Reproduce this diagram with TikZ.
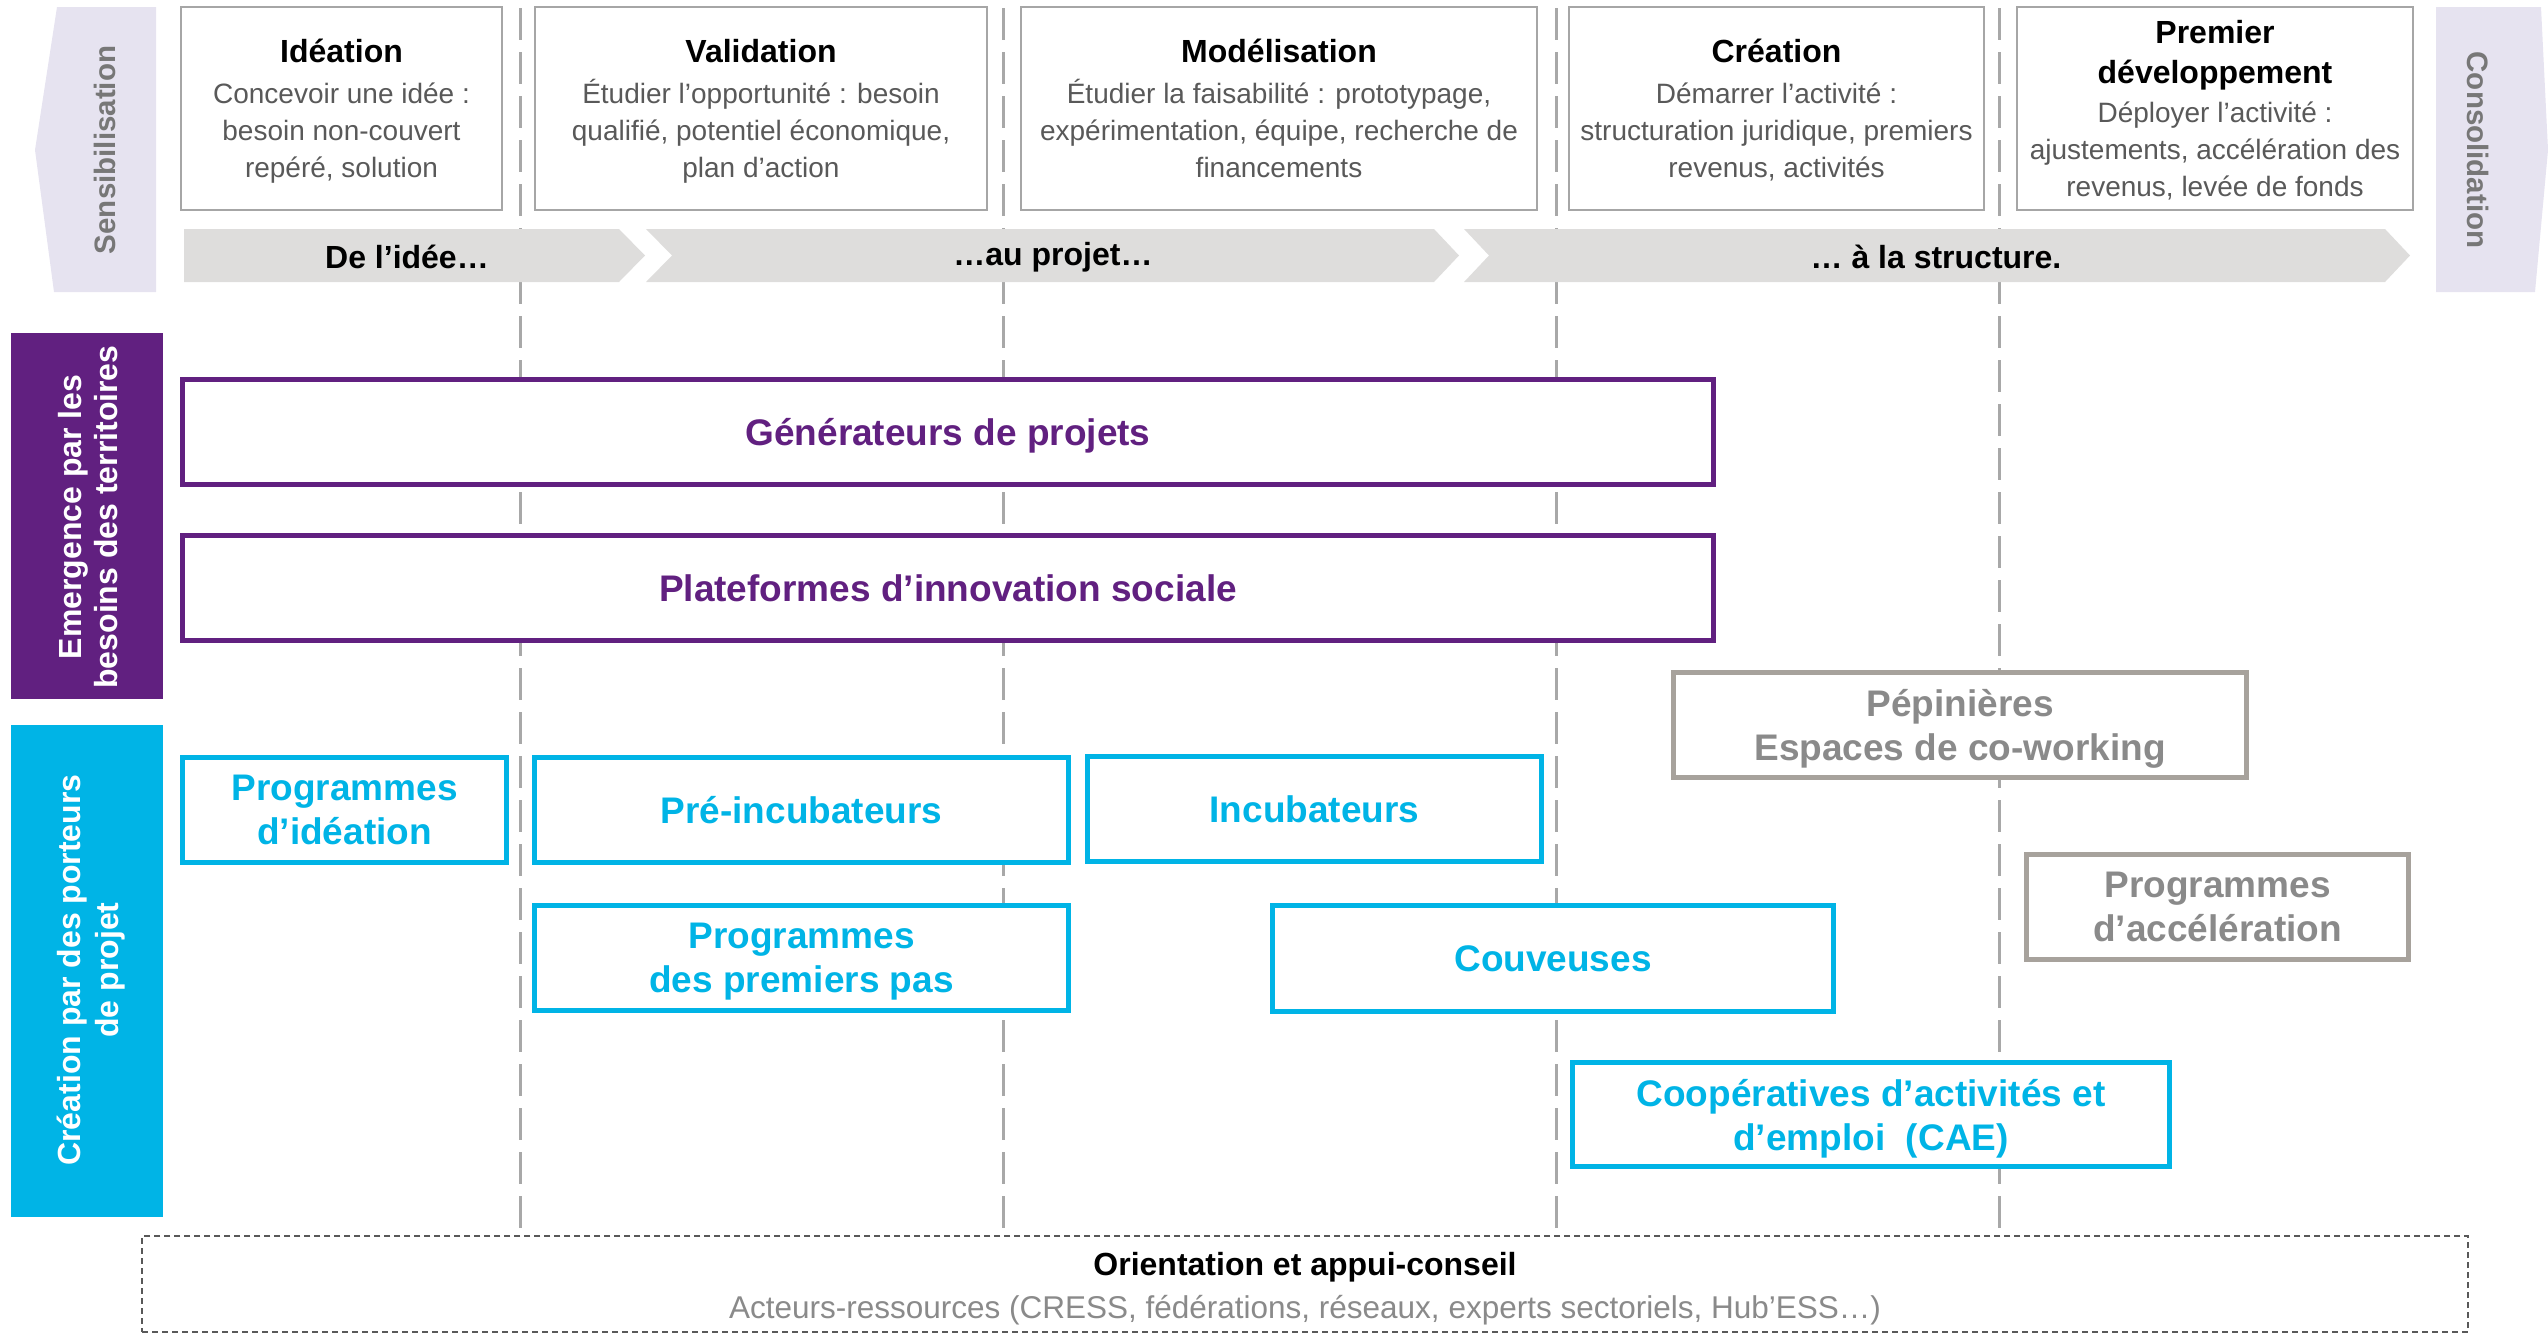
\documentclass[tikz,border=0pt]{standalone}
\usepackage{fontspec}
\setmainfont{Liberation Sans}
\definecolor{lav}{HTML}{E6E3F0}
\definecolor{chev}{HTML}{DEDDDC}
\definecolor{hborder}{HTML}{A6A6A6}
\definecolor{bodyg}{HTML}{595959}
\definecolor{purp}{HTML}{612080}
\definecolor{cyanb}{HTML}{00B4E6}
\definecolor{grayb}{HTML}{A7A29C}
\definecolor{grayt}{HTML}{8A8A8A}
\definecolor{vline}{HTML}{A8A8A8}
\definecolor{sidet}{HTML}{777777}
\newcommand{\titf}{\bfseries\fontsize{32}{37}\selectfont\color{black}}
\begin{document}
\begin{tikzpicture}[x=1pt,y=-1pt,
  hbox/.style={draw=hborder,line width=2pt,fill=white,align=center,text=bodyg,
    font=\fontsize{28}{37}\selectfont,inner sep=0pt,text depth=0pt},
  pbox/.style={draw=purp,line width=5pt,fill=white,align=center,text=purp,
    font=\bfseries\fontsize{37}{44}\selectfont,inner sep=0pt,text depth=0pt},
  cbox/.style={pbox,draw=cyanb,text=cyanb},
  gbox/.style={pbox,draw=grayb,text=grayt},
  chevtxt/.style={font=\bfseries\fontsize{32}{38}\selectfont,text=black,inner sep=0pt},
  sidelab/.style={font=\bfseries\fontsize{32}{36}\selectfont,align=center,inner sep=0pt},
  phase/.style={draw=vline,line width=3pt,dash pattern=on 32pt off 12pt}
]
\useasboundingbox (0,0) rectangle (2548,1333);

% phase dividers (behind everything)
\coordinate (d1t) at (520,8);   \coordinate (d1b) at (520,1235);
\coordinate (d2t) at (1003,8);  \coordinate (d2b) at (1003,1235);
\coordinate (d3t) at (1556,8);  \coordinate (d3b) at (1556,1235);
\coordinate (d4t) at (1999,8);  \coordinate (d4b) at (1999,1235);
\draw[phase] (d1t) -- (d1b);
\draw[phase] (d2t) -- (d2b);
\draw[phase] (d3t) -- (d3b);
\draw[phase] (d4t) -- (d4b);

% side lavender shapes
\fill[lav] (57,7) -- (156,7) -- (156,292) -- (54,292) -- (35,150) -- cycle;
\node[sidelab,text=sidet,rotate=90,font=\bfseries\fontsize{29.5}{34}\selectfont] (sens) at (105,150) {Sensibilisation};
\fill[lav] (2436,7) -- (2541,7) -- (2548,150) -- (2535,292) -- (2436,292) -- cycle;
\node[sidelab,text=sidet,rotate=-90,font=\bfseries\fontsize{29.5}{34}\selectfont] (cons) at (2478,150) {Consolidation};

% header boxes
\node[hbox,minimum width=321,minimum height=203] (ideation) at (341.5,108.5)
  {{\titf Idéation}\\[4pt]Concevoir une idée :\\besoin non-couvert\\repéré, solution};
\node[hbox,minimum width=452,minimum height=203] (validation) at (761,108.5)
  {{\titf Validation}\\[4pt]Étudier l’opportunité : besoin\\qualifié, potentiel économique,\\plan d’action};
\node[hbox,minimum width=516,minimum height=203] (modelisation) at (1279,108.5)
  {{\titf Modélisation}\\[4pt]Étudier la faisabilité : prototypage,\\expérimentation, équipe, recherche de\\financements};
\node[hbox,minimum width=415,minimum height=203] (creation) at (1776.5,108.5)
  {{\titf Création}\\[4pt]Démarrer l’activité :\\structuration juridique, premiers\\revenus, activités};
\node[hbox,minimum width=396,minimum height=203] (premier) at (2215,108.5)
  {{\titf Premier}\\[3pt]{\titf développement}\\[2pt]Déployer l’activité :\\ajustements, accélération des\\revenus, levée de fonds};

% chevron band
\fill[chev] (184,229) -- (619,229) -- (645,255.5) -- (619,282) -- (184,282) -- cycle;
\fill[chev] (646,229) -- (1434,229) -- (1459,255.5) -- (1434,282) -- (646,282) -- (672,255.5) -- cycle;
\fill[chev] (1464,229) -- (2385,229) -- (2410,255.5) -- (2385,282) -- (1464,282) -- (1489,255.5) -- cycle;
\node[chevtxt] (c1) at (407,257) {De l’idée…};
\node[chevtxt] (c2) at (1053,257) {…au projet…};
\node[chevtxt] (c3) at (1936,257) {… à la structure.};

% left category bars
\fill[purp] (11,333) rectangle (163,699);
\node[sidelab,text=white,rotate=90] (emerg) at (88,517) {Emergence par les\\besoins des territoires};
\fill[cyanb] (11,725) rectangle (163,1217);
\node[sidelab,text=white,rotate=90,font=\bfseries\fontsize{32}{38}\selectfont] (creat) at (91,970) {Création par des porteurs\\de projet};

% purple boxes
\node[pbox,minimum width=1531,minimum height=105] (gen) at (948,432) {Générateurs de projets};
\node[pbox,minimum width=1531,minimum height=105] (plat) at (948,588) {Plateformes d’innovation sociale};

% gray boxes
\node[gbox,minimum width=573,minimum height=105] (pep) at (1960,725) {Pépinières\\Espaces de co-working};
\node[gbox,minimum width=382,minimum height=105] (acc) at (2217.5,907) {Programmes\\d’accélération};

% cyan boxes
\node[cbox,minimum width=324,minimum height=105] (pid) at (344.5,810) {Programmes\\d’idéation};
\node[cbox,minimum width=534,minimum height=105] (preinc) at (801.5,810) {Pré-incubateurs};
\node[cbox,minimum width=454,minimum height=105] (incub) at (1314.5,809) {Incubateurs};
\node[cbox,minimum width=534,minimum height=105] (ppas) at (801.5,958) {Programmes\\des premiers pas};
\node[cbox,minimum width=561,minimum height=106] (couv) at (1553,958.5) {Couveuses};
\node[cbox,minimum width=597,minimum height=104] (cae) at (1871,1114.5) {Coopératives d’activités et\\d’emploi~ (CAE)};

% bottom dashed box
\node[draw=bodyg,line width=2pt,dash pattern=on 6pt off 4pt,fill=white,
  minimum width=2326,minimum height=96,inner sep=0pt] (orient) at (1305,1284) {};
\node[font=\bfseries\fontsize{32}{38}\selectfont,text=black,inner sep=0pt] (orientt) at (1305,1267) {Orientation et appui-conseil};
\node[font=\fontsize{31.5}{36}\selectfont,text=grayt,inner sep=0pt] (orients) at (1305,1310) {Acteurs-ressources (CRESS, fédérations, réseaux, experts sectoriels, Hub’ESS…)};
\end{tikzpicture}
\end{document}
